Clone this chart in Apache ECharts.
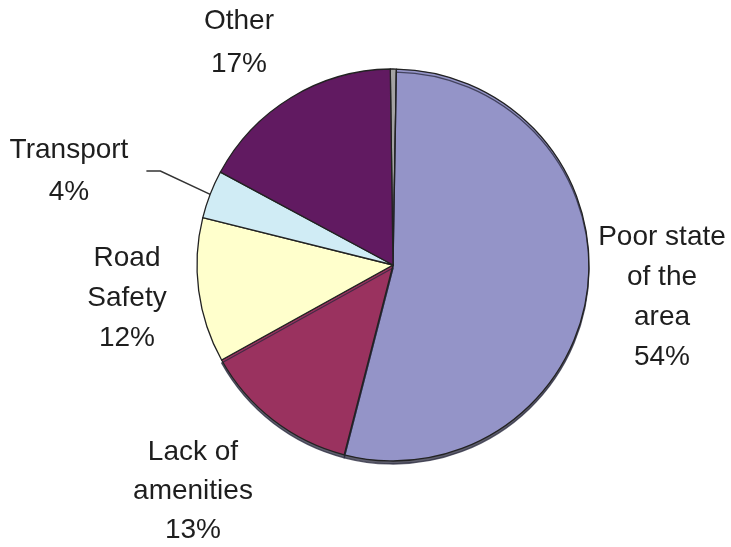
<!DOCTYPE html>
<html>
<head>
<meta charset="utf-8">
<script src="https://cdn.jsdelivr.net/npm/echarts@6/dist/echarts.min.js"></script>
<style>
html,body{margin:0;padding:0;background:#fff;}
#chart{width:731px;height:547px;}
</style>
</head>
<body>
<div id="chart"></div>
<script>
// Data
var categories = ['', 'Poor state\nof the\narea', 'Lack of\namenities', 'Road\nSafety', 'Transport', 'Other'];
var values = [0.5, 54, 13, 12, 4, 17];
var colors = ['#a3a3a3', '#9494c8', '#9a325f', '#ffffcc', '#d0ecf5', '#611a61'];

// Label placements (style only)
var labelPos = [
  null,
  {x: 662, y: 297, lh: 40},
  {x: 193, y: 491, lh: 39},
  {x: 127, y: 298, lh: 40},
  {x: 78, y: 171, lh: 42, pad: [0, 18, 0, 0]},
  {x: 239, y: 43, lh: 43}
];

var chart = echarts.init(document.getElementById('chart'));
var data = categories.map(function (c, i) {
  var item = {
    name: c,
    value: values[i],
    itemStyle: {color: colors[i]}
  };
  var lp = labelPos[i];
  if (!lp) {
    item.label = {show: false};
    item.labelLine = {show: false};
  } else {
    item.label = {lineHeight: lp.lh};
    if (lp.pad) item.label.padding = lp.pad;
  }
  if (i === 1 || i === 2) {
    item.itemStyle.shadowColor = 'rgba(40,40,60,0.75)';
    item.itemStyle.shadowOffsetY = 3;
    item.itemStyle.shadowOffsetX = 0;
    item.itemStyle.shadowBlur = 0;
  }
  if (i === 4) {
    item.labelLine = {show: true, length: 14, length2: 14, lineStyle: {color: '#333', width: 1.5}};
  } else if (lp) {
    item.labelLine = {show: false};
  }
  return item;
});

chart.setOption({
  backgroundColor: '#fff',
  animation: false,
  series: [{
    type: 'pie',
    center: [393, 265],
    radius: [0, 196],
    startAngle: 90.8,
    clockwise: true,
    avoidLabelOverlap: false,
    itemStyle: {borderColor: '#222', borderWidth: 1.3},
    emphasis: {disabled: true},
    label: {
      show: true,
      position: 'outside',
      fontFamily: 'Liberation Sans, Arial, sans-serif',
      fontSize: 28,
      color: '#1e1e1e',
      align: 'center',
      formatter: function (p) {
        return p.name + '\n' + p.value + '%';
      }
    },
    labelLayout: function (p) {
      var lp = labelPos[p.dataIndex];
      if (!lp) return {};
      return {x: lp.x, y: lp.y, align: 'center', verticalAlign: 'middle'};
    },
    data: data
  }]
});
</script>
</body>
</html>
